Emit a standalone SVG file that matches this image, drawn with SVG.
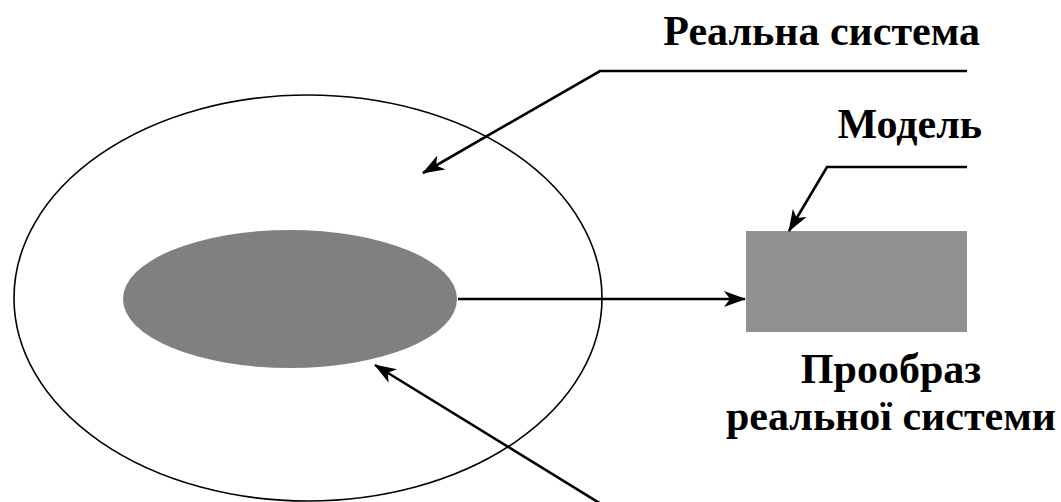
<svg xmlns="http://www.w3.org/2000/svg" width="1061" height="502" viewBox="0 0 1061 502">
<style>
.lbl{font-family:"Liberation Serif","Times New Roman",serif;font-weight:bold;font-size:42px;fill:#000}
.con{fill:none;stroke:#000;stroke-width:2.6}
</style>
<defs>
<marker id="ah" markerUnits="userSpaceOnUse" viewBox="0 0 22 16" refX="21" refY="8" markerWidth="22" markerHeight="16" orient="auto">
<path d="M0,0 L22,8 L0,16 L6,8 Z" fill="#000"/>
</marker>
</defs>
<rect width="1061" height="502" fill="#fff"/>
<g id="real-system">
<ellipse cx="308" cy="298" rx="294" ry="203" fill="none" stroke="#000" stroke-width="1.6"/>
</g>
<g id="prototype">
<ellipse cx="290" cy="299" rx="167" ry="69" fill="#808080"/>
</g>
<g id="model">
<rect x="746" y="231" width="221" height="101" fill="#919191"/>
</g>
<g id="connectors">
<path class="con" d="M967,71 L600,71 L423,173" marker-end="url(#ah)"/>
<path class="con" d="M967,167 L827,167 L789,231" marker-end="url(#ah)"/>
<path class="con" d="M458,299 L745,299" marker-end="url(#ah)"/>
<path class="con" d="M601,504 L375,365" marker-end="url(#ah)"/>
</g>
<g id="labels">
<text class="lbl" x="980" y="45" text-anchor="end">Реальна система</text>
<text class="lbl" x="982" y="138" text-anchor="end">Модель</text>
<text class="lbl" x="891" y="383" text-anchor="middle">Прообраз</text>
<text class="lbl" x="891" y="430" text-anchor="middle">реальної системи</text>
</g>
</svg>
